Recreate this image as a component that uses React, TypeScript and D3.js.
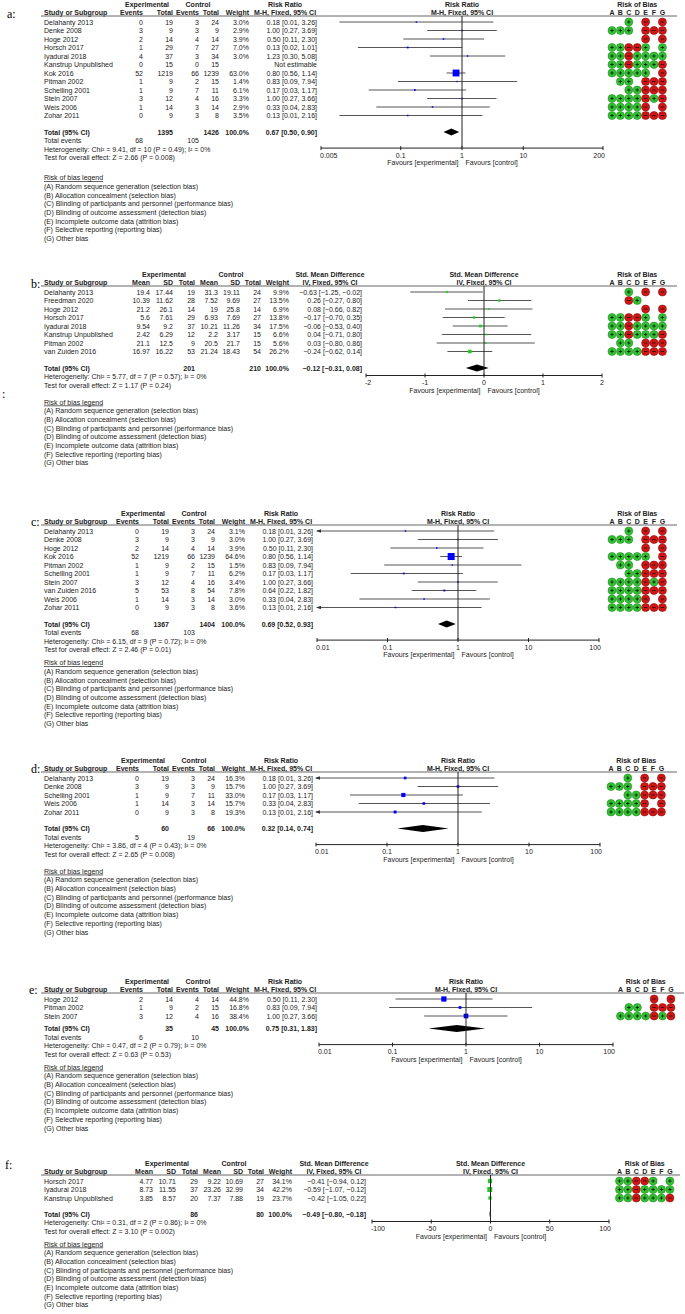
import React from "react";
import * as d3 from "d3";

const W = 685;
const H = 1314;
const FONT = "'Liberation Sans', Arial, Helvetica, sans-serif";
const FS = 7;
const ROW = 8.5;

const legendLines = [
  "(A) Random sequence generation (selection bias)",
  "(B) Allocation concealment (selection bias)",
  "(C) Blinding of participants and personnel (performance bias)",
  "(D) Blinding of outcome assessment (detection bias)",
  "(E) Incomplete outcome data (attrition bias)",
  "(F) Selective reporting (reporting bias)",
  "(G) Other bias",
];
const robLetters = ["A", "B", "C", "D", "E", "F", "G"];

// ---------------- panel a ----------------
const aStudies = ["Delahanty 2013", "Denke 2008", "Hoge 2012", "Horsch 2017", "Iyadurai 2018", "Kanstrup Unpublished", "Kok 2016", "Pitman 2002", "Schelling 2001", "Stein 2007", "Weis 2006", "Zohar 2011"];
const aExpEvents = [0, 3, 2, 1, 4, 0, 52, 1, 1, 3, 1, 0];
const aExpTotal = [19, 9, 14, 29, 37, 15, 1219, 9, 9, 12, 14, 9];
const aCtlEvents = [3, 3, 4, 7, 3, 0, 66, 2, 7, 4, 3, 3];
const aCtlTotal = [24, 9, 14, 27, 34, 15, 1239, 15, 11, 16, 14, 8];
const aWeight = [3.0, 2.9, 3.9, 7.0, 3.0, null, 63.0, 1.4, 6.1, 3.3, 2.9, 3.5];
const aRR = [0.18, 1.0, 0.5, 0.13, 1.23, null, 0.8, 0.83, 0.17, 1.0, 0.33, 0.13];
const aLower = [0.01, 0.27, 0.11, 0.02, 0.3, null, 0.56, 0.09, 0.03, 0.27, 0.04, 0.01];
const aUpper = [3.26, 3.69, 2.3, 1.01, 5.08, null, 1.14, 7.94, 1.17, 3.66, 2.83, 2.16];
const aRob = ["  + - -", "+++ ---", "    - -", "++--+ +", "++-++++", "++-+++-", "+++++ -", " ++ ---", "  ++---", "++++-+-", "++++- -", "++++---"];
const aTotals = [1395, 1426];
const aTotalEvents = [68, 105];
const aPooled = [0.67, 0.5, 0.9];
const aHet = [9.41, 10, 0.49, 0];
const aTest = [2.66, 0.008];
const aTicks = [0.005, 0.1, 1, 10, 200];

// ---------------- panel b ----------------
const bStudies = ["Delahanty 2013", "Freedman 2020", "Hoge 2012", "Horsch 2017", "Iyadurai 2018", "Kanstrup Unpublished", "Pitman 2002", "van Zuiden 2016"];
const bExpMean = [19.4, 10.39, 21.2, 5.6, 9.54, 2.42, 21.1, 16.97];
const bExpSD = [17.44, 11.62, 26.1, 7.61, 9.2, 6.29, 12.5, 16.22];
const bExpN = [19, 28, 14, 29, 37, 12, 9, 53];
const bCtlMean = [31.3, 7.52, 19, 6.93, 10.21, 2.2, 20.5, 21.24];
const bCtlSD = [19.11, 9.69, 25.8, 7.69, 11.26, 3.17, 21.7, 18.43];
const bCtlN = [24, 27, 14, 27, 34, 15, 15, 54];
const bWeight = [9.9, 13.5, 6.9, 13.8, 17.5, 6.6, 5.6, 26.2];
const bSMD = [-0.63, 0.26, 0.08, -0.17, -0.06, 0.04, 0.03, -0.24];
const bLower = [-1.25, -0.27, -0.66, -0.7, -0.53, -0.71, -0.8, -0.62];
const bUpper = [-0.02, 0.8, 0.82, 0.35, 0.4, 0.8, 0.86, 0.14];
const bRob = ["  + - -", "  -+   ", "    - -", "++--+ +", "++-++++", "++-+++-", " ++ ---", "++++---"];
const bTotals = [201, 210];
const bPooled = [-0.12, -0.31, 0.08];
const bHet = [5.77, 7, 0.57, 0];
const bTest = [1.17, 0.24];
const bTicks = [-2, -1, 0, 1, 2];

// ---------------- panel c ----------------
const cStudies = ["Delahanty 2013", "Denke 2008", "Hoge 2012", "Kok 2016", "Pitman 2002", "Schelling 2001", "Stein 2007", "van Zuiden 2016", "Weis 2006", "Zohar 2011"];
const cExpEvents = [0, 3, 2, 52, 1, 1, 3, 5, 1, 0];
const cExpTotal = [19, 9, 14, 1219, 9, 9, 12, 53, 14, 9];
const cCtlEvents = [3, 3, 4, 66, 2, 7, 4, 8, 3, 3];
const cCtlTotal = [24, 9, 14, 1239, 15, 11, 16, 54, 14, 8];
const cWeight = [3.1, 3.0, 3.9, 64.6, 1.5, 6.2, 3.4, 7.8, 3.0, 3.6];
const cRR = [0.18, 1.0, 0.5, 0.8, 0.83, 0.17, 1.0, 0.64, 0.33, 0.13];
const cLower = [0.01, 0.27, 0.11, 0.56, 0.09, 0.03, 0.27, 0.22, 0.04, 0.01];
const cUpper = [3.26, 3.69, 2.3, 1.14, 7.94, 1.17, 3.66, 1.82, 2.83, 2.16];
const cRob = ["  + - -", "+++ ---", "    - -", "+++++ -", " ++ ---", "  ++---", "++++-+-", "++++---", "++++- -", "++++---"];
const cTotals = [1367, 1404];
const cTotalEvents = [68, 103];
const cPooled = [0.69, 0.52, 0.93];
const cHet = [6.15, 9, 0.72, 0];
const cTest = [2.46, 0.01];
const cTicks = [0.01, 0.1, 1, 10, 100];

// ---------------- panel d ----------------
const dStudies = ["Delahanty 2013", "Denke 2008", "Schelling 2001", "Weis 2006", "Zohar 2011"];
const dExpEvents = [0, 3, 1, 1, 0];
const dExpTotal = [19, 9, 9, 14, 9];
const dCtlEvents = [3, 3, 7, 3, 3];
const dCtlTotal = [24, 9, 11, 14, 8];
const dWeight = [16.3, 15.7, 33.0, 15.7, 19.3];
const dRR = [0.18, 1.0, 0.17, 0.33, 0.13];
const dLower = [0.01, 0.27, 0.03, 0.04, 0.01];
const dUpper = [3.26, 3.69, 1.17, 2.83, 2.16];
const dRob = ["  + - -", "+++ ---", "  ++---", "++++- -", "++++---"];
const dTotals = [60, 66];
const dTotalEvents = [5, 19];
const dPooled = [0.32, 0.14, 0.74];
const dHet = [3.86, 4, 0.43, 0];
const dTest = [2.65, 0.008];
const dTicks = [0.01, 0.1, 1, 10, 100];

// ---------------- panel e ----------------
const eStudies = ["Hoge 2012", "Pitman 2002", "Stein 2007"];
const eExpEvents = [2, 1, 3];
const eExpTotal = [14, 9, 12];
const eCtlEvents = [4, 2, 4];
const eCtlTotal = [14, 15, 16];
const eWeight = [44.8, 16.8, 38.4];
const eRR = [0.5, 0.83, 1.0];
const eLower = [0.11, 0.09, 0.27];
const eUpper = [2.3, 7.94, 3.66];
const eRob = ["    - -", " ++ ---", "++++-+-"];
const eTotals = [35, 45];
const eTotalEvents = [6, 10];
const ePooled = [0.75, 0.31, 1.83];
const eHet = [0.47, 2, 0.79, 0];
const eTest = [0.63, 0.53];
const eTicks = [0.01, 0.1, 1, 10, 100];

// ---------------- panel f ----------------
const fStudies = ["Horsch 2017", "Iyadurai 2018", "Kanstrup Unpublished"];
const fExpMean = [4.77, 8.73, 3.85];
const fExpSD = [10.71, 11.55, 8.57];
const fExpN = [29, 37, 20];
const fCtlMean = [9.22, 23.26, 7.37];
const fCtlSD = [10.69, 32.99, 7.88];
const fCtlN = [27, 34, 19];
const fWeight = [34.1, 42.2, 23.7];
const fSMD = [-0.41, -0.59, -0.42];
const fLower = [-0.94, -1.07, -1.05];
const fUpper = [0.12, -0.12, 0.22];
const fRob = ["++--+ +", "++-++++", "++-+++-"];
const fTotals = [86, 80];
const fPooled = [-0.49, -0.8, -0.18];
const fHet = [0.31, 2, 0.86, 0];
const fTest = [3.1, 0.002];
const fTicks = [-100, -50, 0, 50, 100];

// ---------------------------------------------------------------
const fmt2 = d3.format(".2f");
const fmt1 = d3.format(".1f");
const ciText = (e: number, l: number, h: number) => `${fmt2(e)} [${fmt2(l)}, ${fmt2(h)}]`;
const hetText = (h: number[]) => `Heterogeneity: Chi² = ${h[0].toFixed(2)}, df = ${h[1]} (P = ${h[2]}); I² = ${h[3]}%`;
const testText = (t: number[]) => `Test for overall effect: Z = ${t[0].toFixed(2)} (P = ${t[1]})`;

function T(props: any) {
  const { x, y, children, anchor = "start", bold = false, underline = false, fill = "#222" } = props;
  return (
    <text
      x={x}
      y={y + 2.5}
      textAnchor={anchor}
      fontWeight={bold ? "bold" : "normal"}
      fontSize={FS}
      fontFamily={FONT}
      fill={fill}
      textDecoration={underline ? "underline" : undefined}
    >
      {children}
    </text>
  );
}

function Panel(p: any) {
  const n = p.names.length;
  const hdr1 = p.y0;
  const hdr2 = p.y0 + ROW;
  const lineY = p.y0 + 12;
  const rowY = (i: number) => p.y0 + 18 + i * ROW;
  const totalY = rowY(n - 1) + p.totalGap;
  let cur = totalY;
  const eventsY = p.eventsCells ? (cur += 8.6) : null;
  const hetY = (cur += 8.5);
  const testY = (cur += 8.5);
  const legTitleY = testY + p.legendGap;
  const x = p.x;
  const [r0, r1] = x.range();
  const [d0, d1] = x.domain();
  const nullX = x(p.kind === "RR" ? 1 : 0);
  const axisY = hetY - 1;
  const ciCenter = p.ciRight - 32;
  const robStep = 8.4;
  const nameX = 44;

  const clampX = (v: number) => x(Math.max(d0, Math.min(d1, v)));

  return (
    <g>
      <text x={p.labelX} y={p.labelY + 4} fontFamily="'Liberation Serif', 'Times New Roman', serif" fontSize={12} fill="#000">
        {p.label}
      </text>
      {p.groups.map((g: any, i: number) => (
        <T key={"g" + i} x={g.x} y={hdr1} anchor="middle" bold>
          {g.text}
        </T>
      ))}
      <T x={ciCenter} y={hdr1} anchor="middle" bold>{p.titleLines[0]}</T>
      <T x={ciCenter} y={hdr2} anchor="middle" bold>{p.titleLines[1]}</T>
      <T x={nullX} y={hdr1} anchor="middle" bold>{p.titleLines[0]}</T>
      <T x={nullX} y={hdr2} anchor="middle" bold>{p.titleLines[1]}</T>
      <T x={p.robX0 + 3 * robStep} y={hdr1} anchor="middle" bold>Risk of Bias</T>
      {robLetters.map((l, i) => (
        <T key={"l" + i} x={p.robX0 + i * robStep} y={hdr2} anchor="middle" bold>{l}</T>
      ))}
      <T x={nameX} y={hdr2} bold>Study or Subgroup</T>
      {p.colHeads.map((h: string, i: number) => (
        <T key={"h" + i} x={p.colRight[i]} y={hdr2} anchor="end" bold>{h}</T>
      ))}
      <line x1={41} x2={p.lineEnd} y1={lineY} y2={lineY} stroke="#666" strokeWidth={1} />

      {p.names.map((name: string, i: number) => {
        const y = rowY(i);
        const e = p.est[i];
        const lo = p.lo[i];
        const hi = p.hi[i];
        const w = p.weights[i];
        const side = w == null ? 0 : 1.2 + 0.09 * w;
        return (
          <g key={"r" + i}>
            <T x={nameX} y={y}>{name}</T>
            {p.cells[i].map((c: string, j: number) => (
              <T key={j} x={p.colRight[j]} y={y} anchor="end">{c}</T>
            ))}
            <T x={p.ciRight} y={y} anchor="end">{e == null ? "Not estimable" : ciText(e, lo, hi)}</T>
            {e != null && (
              <g>
                <line x1={clampX(lo)} x2={clampX(hi)} y1={y} y2={y} stroke="#555" strokeWidth={1} />
                {lo <= d0 && (
                  <polygon points={`${r0 - 1},${y} ${r0 + 4},${y - 1.8} ${r0 + 4},${y + 1.8}`} fill="#333" />
                )}
                {hi >= d1 && (
                  <polygon points={`${r1 + 1},${y} ${r1 - 4},${y - 1.8} ${r1 - 4},${y + 1.8}`} fill="#333" />
                )}
                <rect x={x(e) - side / 2} y={y - side / 2} width={side} height={side} fill={p.markerColor} />
              </g>
            )}
            {p.rob[i].split("").map((ch: string, k: number) => {
              if (ch === " ") return null;
              const cx = p.robX0 + k * robStep;
              const good = ch === "+";
              return (
                <g key={"rb" + k}>
                  <circle cx={cx} cy={y} r={4} fill={good ? "#33c133" : "#d01515"} stroke={good ? "#1f8f1f" : "#8f0d0d"} strokeWidth={0.6} />
                  <line x1={cx - 1.7} x2={cx + 1.7} y1={y} y2={y} stroke="#111" strokeWidth={0.8} />
                  {good && <line x1={cx} x2={cx} y1={y - 1.7} y2={y + 1.7} stroke="#111" strokeWidth={0.8} />}
                </g>
              );
            })}
          </g>
        );
      })}

      <T x={nameX} y={totalY} bold>Total (95% CI)</T>
      {p.totalCells.map((c: string, j: number) => (
        <T key={"t" + j} x={p.colRight[j]} y={totalY} anchor="end" bold>{c}</T>
      ))}
      <T x={p.ciRight} y={totalY} anchor="end" bold>{ciText(p.pooled[0], p.pooled[1], p.pooled[2])}</T>
      <polygon
        points={`${x(p.pooled[1])},${totalY} ${x(p.pooled[0])},${totalY - 3.6} ${x(p.pooled[2])},${totalY} ${x(p.pooled[0])},${totalY + 3.6}`}
        fill="#000"
      />
      {p.eventsCells && (
        <g>
          <T x={nameX} y={eventsY}>Total events</T>
          {p.eventsCells.map((c: string, j: number) => (
            <T key={"e" + j} x={p.colRight[j]} y={eventsY} anchor="end">{c}</T>
          ))}
        </g>
      )}
      <T x={nameX} y={hetY}>{p.het}</T>
      <T x={nameX} y={testY}>{p.test}</T>

      <line x1={nullX} x2={nullX} y1={lineY} y2={axisY} stroke="#222" strokeWidth={1} />
      <line x1={r0} x2={r1} y1={axisY} y2={axisY} stroke="#222" strokeWidth={1} />
      {p.ticks.map((t: number, i: number) => {
        const tx = x(t);
        const last = i === p.ticks.length - 1;
        const anchor = i === 0 ? "start" : last ? "end" : "middle";
        const lx = i === 0 ? tx - 1 : last ? tx + 2 : tx;
        return (
          <g key={"k" + i}>
            <line x1={tx} x2={tx} y1={axisY - 2} y2={axisY + 2} stroke="#222" strokeWidth={1} />
            <T x={lx} y={axisY + 7} anchor={anchor}>{String(t)}</T>
          </g>
        );
      })}
      <T x={nullX - 3.5} y={axisY + 14.5} anchor="end">Favours [experimental]</T>
      <T x={nullX + 3.5} y={axisY + 14.5}>Favours [control]</T>

      <T x={nameX} y={legTitleY} underline>Risk of bias legend</T>
      {legendLines.map((l, k) => (
        <T key={"lg" + k} x={nameX} y={legTitleY + 8.7 * (k + 1)}>{l}</T>
      ))}
    </g>
  );
}

const RR_COLS = [143, 173, 199, 219, 249];
const RR_COLS_CD = RR_COLS.map((v) => v - 4);
const RR_HEADS = ["Events", "Total", "Events", "Total", "Weight"];
const RR_GROUPS = [
  { text: "Experimental", x: 147 },
  { text: "Control", x: 198 },
];
const RR_GROUPS_CD = RR_GROUPS.map((g) => ({ text: g.text, x: g.x - 4 }));
const SMD_HEADS = ["Mean", "SD", "Total", "Mean", "SD", "Total", "Weight"];

function rrCells(ev: number[], tot: number[], cev: number[], ctot: number[], w: (number | null)[]) {
  return ev.map((_, i) => [String(ev[i]), String(tot[i]), String(cev[i]), String(ctot[i]), w[i] == null ? "" : fmt1(w[i] as number) + "%"]);
}
function smdCells(m: number[], sd: number[], nn: number[], cm: number[], csd: number[], cn: number[], w: number[]) {
  return m.map((_, i) => [String(m[i]), String(sd[i]), String(nn[i]), String(cm[i]), String(csd[i]), String(cn[i]), fmt1(w[i]) + "%"]);
}

export default function App() {
  const xa = d3.scaleLog().domain([0.005, 200]).range([321, 603]);
  const xb = d3.scaleLinear().domain([-2, 2]).range([366, 602]);
  const xc = d3.scaleLog().domain([0.01, 100]).range([317, 599]);
  const xd = d3.scaleLog().domain([0.01, 100]).range([316, 600]);
  const xe = d3.scaleLog().domain([0.01, 100]).range([319, 613]);
  const xf = d3.scaleLinear().domain([-100, 100]).range([372, 609]);

  const smdColsB = [150, 173, 195, 218, 240, 261, 289];
  const smdColsF = smdColsB.map((v) => v + 3);

  return (
    <svg width={W} height={H} style={{ position: "absolute", left: 0, top: 0, background: "#fff" }}>
      <rect x={0} y={0} width={W} height={H} fill="#fff" />
      <Panel
        label="a:" labelX={7} labelY={13.5} y0={4} kind="RR"
        names={aStudies}
        cells={rrCells(aExpEvents, aExpTotal, aCtlEvents, aCtlTotal, aWeight)}
        colRight={RR_COLS} colHeads={RR_HEADS} groups={RR_GROUPS}
        weights={aWeight} est={aRR} lo={aLower} hi={aUpper} rob={aRob}
        totalCells={["", String(aTotals[0]), "", String(aTotals[1]), "100.0%"]}
        eventsCells={[String(aTotalEvents[0]), "", String(aTotalEvents[1]), "", ""]}
        pooled={aPooled} het={hetText(aHet)} test={testText(aTest)}
        ciRight={317} titleLines={["Risk Ratio", "M-H, Fixed, 95% CI"]}
        x={xa} ticks={aTicks} markerColor="#0000ff"
        robX0={612} lineEnd={677} totalGap={16.5} legendGap={20}
      />
      <Panel
        label="b:" labelX={31} labelY={283.5} y0={274} kind="SMD"
        names={bStudies}
        cells={smdCells(bExpMean, bExpSD, bExpN, bCtlMean, bCtlSD, bCtlN, bWeight)}
        colRight={smdColsB} colHeads={SMD_HEADS}
        groups={[{ text: "Experimental", x: 164 }, { text: "Control", x: 231 }]}
        weights={bWeight} est={bSMD} lo={bLower} hi={bUpper} rob={bRob}
        totalCells={["", "", String(bTotals[0]), "", "", String(bTotals[1]), "100.0%"]}
        eventsCells={null}
        pooled={bPooled} het={hetText(bHet)} test={testText(bTest)}
        ciRight={362} titleLines={["Std. Mean Difference", "IV, Fixed, 95% CI"]}
        x={xb} ticks={bTicks} markerColor="#22cc22"
        robX0={612} lineEnd={677} totalGap={16.5} legendGap={17}
      />
      <Panel
        label="c:" labelX={31} labelY={522} y0={513} kind="RR"
        names={cStudies}
        cells={rrCells(cExpEvents, cExpTotal, cCtlEvents, cCtlTotal, cWeight)}
        colRight={RR_COLS_CD} colHeads={RR_HEADS} groups={RR_GROUPS_CD}
        weights={cWeight} est={cRR} lo={cLower} hi={cUpper} rob={cRob}
        totalCells={["", String(cTotals[0]), "", String(cTotals[1]), "100.0%"]}
        eventsCells={[String(cTotalEvents[0]), "", String(cTotalEvents[1]), "", ""]}
        pooled={cPooled} het={hetText(cHet)} test={testText(cTest)}
        ciRight={313} titleLines={["Risk Ratio", "M-H, Fixed, 95% CI"]}
        x={xc} ticks={cTicks} markerColor="#0000ff"
        robX0={612} lineEnd={677} totalGap={16.5} legendGap={13}
      />
      <Panel
        label="d:" labelX={31} labelY={769} y0={760} kind="RR"
        names={dStudies}
        cells={rrCells(dExpEvents, dExpTotal, dCtlEvents, dCtlTotal, dWeight)}
        colRight={RR_COLS_CD} colHeads={RR_HEADS} groups={RR_GROUPS_CD}
        weights={dWeight} est={dRR} lo={dLower} hi={dUpper} rob={dRob}
        totalCells={["", String(dTotals[0]), "", String(dTotals[1]), "100.0%"]}
        eventsCells={[String(dTotalEvents[0]), "", String(dTotalEvents[1]), "", ""]}
        pooled={dPooled} het={hetText(dHet)} test={testText(dTest)}
        ciRight={313} titleLines={["Risk Ratio", "M-H, Fixed, 95% CI"]}
        x={xd} ticks={dTicks} markerColor="#0000ff"
        robX0={611} lineEnd={677} totalGap={16.5} legendGap={17}
      />
      <Panel
        label="e:" labelX={29} labelY={990} y0={981} kind="RR"
        names={eStudies}
        cells={rrCells(eExpEvents, eExpTotal, eCtlEvents, eCtlTotal, eWeight)}
        colRight={RR_COLS} colHeads={RR_HEADS} groups={RR_GROUPS}
        weights={eWeight} est={eRR} lo={eLower} hi={eUpper} rob={eRob}
        totalCells={["", String(eTotals[0]), "", String(eTotals[1]), "100.0%"]}
        eventsCells={[String(eTotalEvents[0]), "", String(eTotalEvents[1]), "", ""]}
        pooled={ePooled} het={hetText(eHet)} test={testText(eTest)}
        ciRight={317} titleLines={["Risk Ratio", "M-H, Fixed, 95% CI"]}
        x={xe} ticks={eTicks} markerColor="#0000ff"
        robX0={620.5} lineEnd={684} totalGap={12.5} legendGap={13}
      />
      <Panel
        label="f:" labelX={5} labelY={1165} y0={1163} kind="SMD"
        names={fStudies}
        cells={smdCells(fExpMean, fExpSD, fExpN, fCtlMean, fCtlSD, fCtlN, fWeight)}
        colRight={smdColsF} colHeads={SMD_HEADS}
        groups={[{ text: "Experimental", x: 167 }, { text: "Control", x: 234 }]}
        weights={fWeight} est={fSMD} lo={fLower} hi={fUpper} rob={fRob}
        totalCells={["", "", String(fTotals[0]), "", "", String(fTotals[1]), "100.0%"]}
        eventsCells={null}
        pooled={fPooled} het={hetText(fHet)} test={testText(fTest)}
        ciRight={366} titleLines={["Std. Mean Difference", "IV, Fixed, 95% CI"]}
        x={xf} ticks={fTicks} markerColor="#22cc22"
        robX0={619.5} lineEnd={680} totalGap={16} legendGap={13}
      />
      <text x={2} y={398} fontFamily="'Liberation Serif', serif" fontSize={12} fill="#000">:</text>
    </svg>
  );
}
